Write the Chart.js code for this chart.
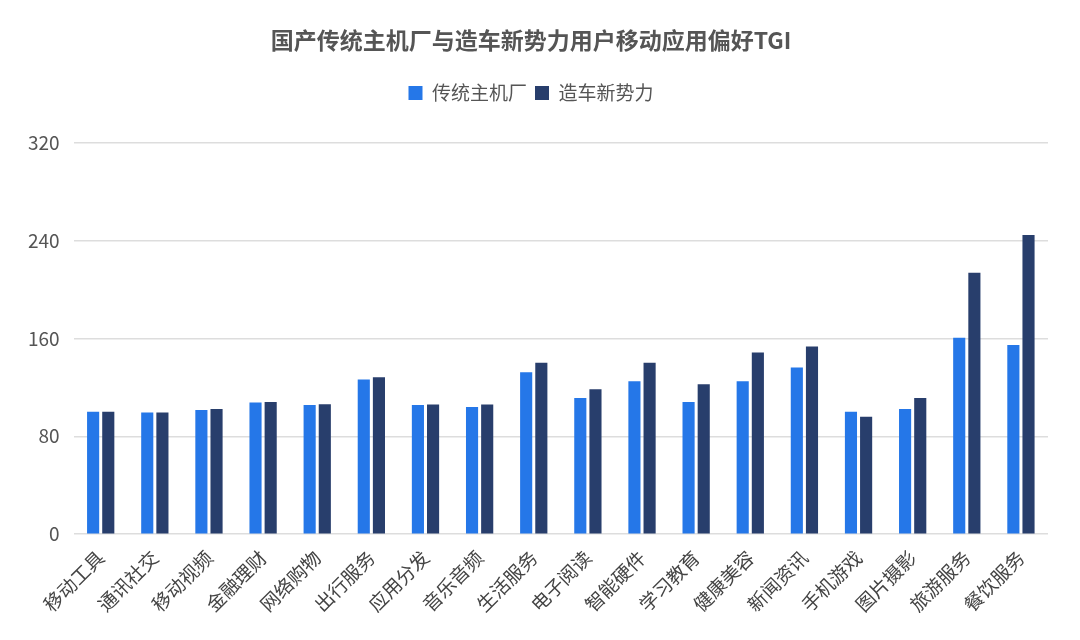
<!DOCTYPE html>
<html>
<head>
<meta charset="utf-8">
<script src="https://cdn.jsdelivr.net/npm/chart.js@4/dist/chart.umd.min.js"></script>
<style>
  html,body{margin:0;padding:0;background:#fff;}
  #wrap{width:1080px;height:640px;}
</style>
</head>
<body>
<div id="wrap"><canvas id="chart1" width="1080" height="640"></canvas></div>
<script>
const categories = ['移动工具','通讯社交','移动视频','金融理财','网络购物','出行服务','应用分发','音乐音频','生活服务','电子阅读','智能硬件','学习教育','健康美容','新闻资讯','手机游戏','图片摄影','旅游服务','餐饮服务'];
const traditional = [100, 99.5, 101.5, 107.5, 105.6, 126.4, 105.6, 104, 132.3, 111.3, 125, 108, 125, 136.2, 100, 102.3, 160.6, 154.5];
const newForces = [100, 99.5, 102.3, 108, 106.1, 128.3, 106, 106, 140, 118.4, 140, 122.5, 148.5, 153.4, 96, 111.3, 213.6, 244.5];
const yTicks = [0, 80, 160, 240, 320];

Chart.defaults.font.family = '"Noto Sans CJK SC", "Noto Sans", sans-serif';

// extra room under the legend
const legendGap = {
  id: 'legendGap',
  beforeInit(chart) {
    const fit = chart.legend.fit;
    chart.legend.fit = function() {
      fit.bind(chart.legend)();
      this.height += 30;
    };
  }
};

const ctx1 = document.getElementById('chart1').getContext('2d');
const myChart1 = new Chart(ctx1, {
  type: 'bar',
  data: {
    labels: categories,
    datasets: [{
      label: '传统主机厂',
      data: traditional,
      backgroundColor: '#2577e8',
      categoryPercentage: 0.56,
      barPercentage: 0.8
    }, {
      label: '造车新势力',
      data: newForces,
      backgroundColor: '#283e6c',
      categoryPercentage: 0.56,
      barPercentage: 0.8
    }]
  },
  options: {
    responsive: false,
    animation: false,
    layout: {
      padding: {left: 14, right: 32, top: 14, bottom: 20}
    },
    plugins: {
      title: {
        display: true,
        text: '国产传统主机厂与造车新势力用户移动应用偏好TGI',
        color: '#555',
        font: {size: 23, weight: 'bold'},
        padding: {top: 12, bottom: 22}
      },
      legend: {
        labels: {
          color: '#555',
          font: {size: 19},
          boxWidth: 14,
          boxHeight: 14,
          padding: 8
        }
      },
      tooltip: {enabled: false}
    },
    scales: {
      x: {
        grid: {display: false},
        border: {display: false},
        ticks: {
          color: '#444',
          font: {size: 19},
          maxRotation: 45,
          minRotation: 45,
          autoSkip: false,
          padding: 4
        }
      },
      y: {
        min: 0,
        max: 320,
        afterBuildTicks: axis => { axis.ticks = yTicks.map(v => ({value: v})); },
        grid: {color: '#dddddd', drawTicks: false, lineWidth: 1.5},
        border: {display: false},
        ticks: {
          color: '#555',
          font: {size: 19},
          padding: 14
        }
      }
    }
  },
  plugins: [legendGap]
});
</script>
</body>
</html>
